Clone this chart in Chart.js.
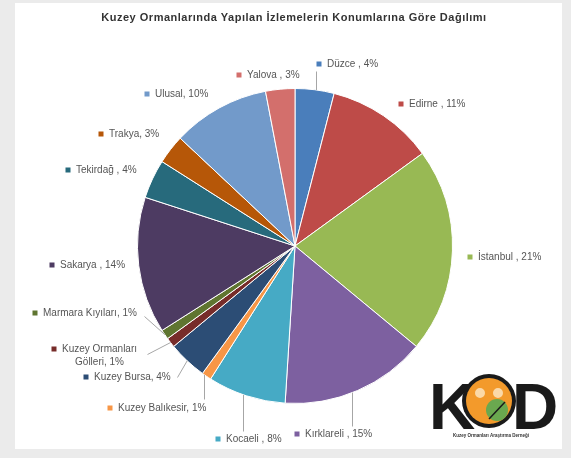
<!DOCTYPE html>
<html>
<head>
<meta charset="utf-8">
<script src="https://cdn.jsdelivr.net/npm/chart.js@4/dist/chart.umd.min.js"></script>
<style>
  html, body { margin: 0; padding: 0; background: #ebebeb; }
  #wrap { position: relative; width: 571px; height: 458px; overflow: hidden; }
  #panel { position: absolute; left: 15px; top: 3px; width: 547px; height: 446px; background: #fff; }
  #pie { position: absolute; left: 0; top: 0; }
</style>
</head>
<body>
<div id="wrap">
  <div id="panel"></div>
  <canvas id="pie" width="571" height="458"></canvas>
</div>
<script>
const title = 'Kuzey Ormanlarında Yapılan İzlemelerin Konumlarına Göre Dağılımı';
const categories = ['Düzce', 'Edirne', 'İstanbul', 'Kırklareli', 'Kocaeli', 'Kuzey Balıkesir',
  'Kuzey Bursa', 'Kuzey Ormanları Gölleri', 'Marmara Kıyıları', 'Sakarya', 'Tekirdağ',
  'Trakya', 'Ulusal', 'Yalova'];
const values = [4, 11, 21, 15, 8, 1, 4, 1, 1, 14, 4, 3, 10, 3];
// separator between name and value, as written in the original labels
const separators = [' , ', ' , ', ' , ', ' , ', ' , ', ', ', ', ', ', ', ', ', ' , ', ' , ', ', ', ', ', ' , '];
const colors = ['#4a7ebb', '#be4b48', '#98b954', '#7d60a0', '#46aac5', '#f79646',
  '#2c4d75', '#772c2a', '#5f7530', '#4d3b62', '#276a7c', '#b65708', '#729aca', '#d36f6c'];

// where each data label sits (marker square position), and leader line start if any
const labelPlace = [
  { x: 319, y: 64, line: [316, 71], vertical: true },
  { x: 401, y: 104 },
  { x: 470, y: 257 },
  { x: 297, y: 434, line: [352, 426], vertical: true },
  { x: 218, y: 439, line: [243, 431], vertical: true },
  { x: 110, y: 408, line: [204, 399], vertical: true },
  { x: 86, y: 377, line: [177, 377] },
  { x: 54, y: 349, wrap: 'Kuzey Ormanları', line: [147, 354] },
  { x: 35, y: 313, line: [144, 316] },
  { x: 52, y: 265 },
  { x: 68, y: 170 },
  { x: 101, y: 134 },
  { x: 147, y: 94 },
  { x: 239, y: 75 }
];

const FONT = '"Liberation Sans", Arial, sans-serif';

const decorations = {
  id: 'decorations',
  afterDraw(chart) {
    const ctx = chart.ctx;
    const arcs = chart.getDatasetMeta(0).data;
    ctx.save();

    // title
    ctx.fillStyle = '#333333';
    ctx.font = 'bold 11px ' + FONT;
    ctx.letterSpacing = '0.5px';
    ctx.textAlign = 'center';
    ctx.textBaseline = 'middle';
    ctx.fillText(title, 294, 18);
    ctx.letterSpacing = '0px';

    // leader lines
    ctx.strokeStyle = '#a6a6a6';
    ctx.lineWidth = 1;
    labelPlace.forEach((p, i) => {
      if (!p.line) return;
      const a = arcs[i].getProps(['x', 'y', 'startAngle', 'endAngle', 'outerRadius'], true);
      let ex, ey;
      if (p.vertical) {
        // drop straight onto the rim of the pie
        const dx = p.line[0] + 0.5 - a.x;
        const dy = Math.sqrt(Math.max(a.outerRadius * a.outerRadius - dx * dx, 0));
        ex = p.line[0] + 0.5;
        ey = p.line[1] < a.y ? a.y - dy : a.y + dy;
      } else {
        const mid = (a.startAngle + a.endAngle) / 2;
        ex = a.x + Math.cos(mid) * a.outerRadius;
        ey = a.y + Math.sin(mid) * a.outerRadius;
      }
      ctx.beginPath();
      ctx.moveTo(p.line[0] + 0.5, p.line[1] + 0.5);
      ctx.lineTo(ex, ey);
      ctx.stroke();
    });

    // data labels
    ctx.font = '10px ' + FONT;
    ctx.textAlign = 'left';
    labelPlace.forEach((p, i) => {
      ctx.fillStyle = colors[i];
      ctx.fillRect(p.x - 2.5, p.y - 2.5, 5, 5);
      ctx.fillStyle = '#555555';
      const full = categories[i] + separators[i] + values[i] + '%';
      if (p.wrap) {
        const first = p.wrap;
        const second = full.slice(first.length + 1);
        ctx.fillText(first, p.x + 8, p.y);
        const w1 = ctx.measureText(first).width;
        ctx.textAlign = 'center';
        ctx.fillText(second, p.x + 8 + w1 / 2, p.y + 13);
        ctx.textAlign = 'left';
      } else {
        ctx.fillText(full, p.x + 8, p.y);
      }
    });

    // KOD logo
    ctx.fillStyle = '#1a1a1a';
    ctx.font = 'bold 64px ' + FONT;
    ctx.textBaseline = 'alphabetic';
    ctx.textAlign = 'left';
    ctx.fillText('K', 429, 429);
    ctx.fillText('D', 512, 429);
    ctx.beginPath();
    ctx.arc(489, 401, 27, 0, Math.PI * 2);
    ctx.fillStyle = '#1a1a1a';
    ctx.fill();
    ctx.beginPath();
    ctx.arc(489, 401, 23, 0, Math.PI * 2);
    ctx.fillStyle = '#f39a2b';
    ctx.fill();
    ctx.beginPath();
    ctx.arc(480, 393, 5, 0, Math.PI * 2);
    ctx.arc(498, 393, 5, 0, Math.PI * 2);
    ctx.fillStyle = '#fbd9a8';
    ctx.fill();
    ctx.beginPath();
    ctx.arc(497, 410, 11, 0, Math.PI * 2);
    ctx.fillStyle = '#6aa84f';
    ctx.fill();
    ctx.strokeStyle = '#1a1a1a';
    ctx.lineWidth = 1.5;
    ctx.beginPath();
    ctx.moveTo(489, 419); ctx.lineTo(505, 402);
    ctx.stroke();
    ctx.fillStyle = '#333';
    ctx.font = 'bold 4.5px ' + FONT;
    ctx.textAlign = 'center';
    ctx.fillText('Kuzey Ormanları Araştırma Derneği', 491, 437);

    ctx.restore();
  }
};

new Chart(document.getElementById('pie'), {
  type: 'pie',
  data: {
    labels: categories,
    datasets: [{
      data: values,
      backgroundColor: colors,
      borderColor: '#ffffff',
      borderWidth: 1
    }]
  },
  options: {
    responsive: false,
    animation: false,
    layout: { padding: { top: 88, bottom: 54, left: 137, right: 118 } },
    plugins: {
      legend: { display: false },
      tooltip: { enabled: false },
      title: { display: false }
    }
  },
  plugins: [decorations]
});
</script>
</body>
</html>
